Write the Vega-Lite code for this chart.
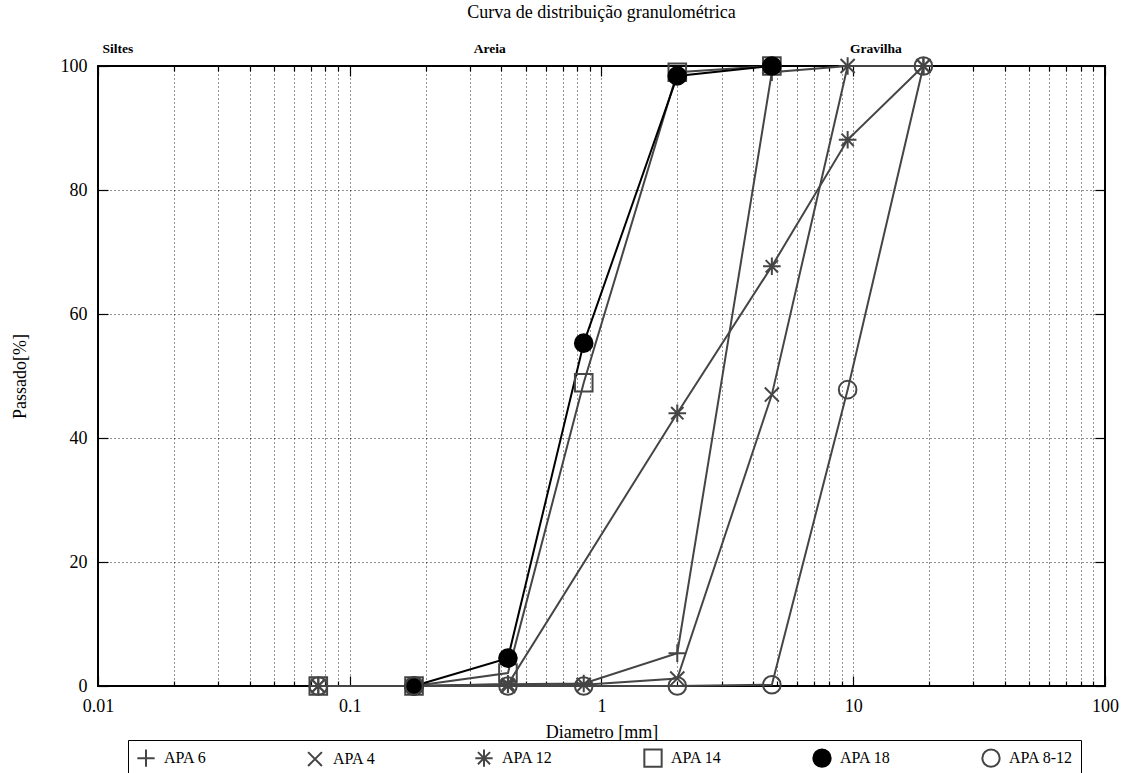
{
  "$schema": "https://vega.github.io/schema/vega-lite/v6.json",
  "autosize": "none",
  "width": 1007,
  "height": 620,
  "padding": {"left": 98, "top": 66, "right": 24, "bottom": 87},
  "title": {"text": "Curva de distribuição granulométrica", "font": "Liberation Serif", "fontSize": 18, "fontWeight": "normal", "color": "#000", "offset": 20, "anchor": "middle"},
  "config": {
    "view": {"stroke": "#000", "strokeWidth": 2},
    "font": "Liberation Serif",
    "axis": {"domain": false, "labelFont": "Liberation Serif", "titleFont": "Liberation Serif", "labelFontSize": 18, "titleFontSize": 18, "titleFontWeight": "normal", "labelColor": "#000", "titleColor": "#000", "tickColor": "#000", "tickWidth": 1.2, "gridColor": "#000", "gridDash": [1, 3], "gridOpacity": 0.85, "gridWidth": 1}
  },
  "datasets": {
    "curves": [
      {"s": "APA 6", "d": 0.075, "p": 0}, {"s": "APA 6", "d": 0.18, "p": 0}, {"s": "APA 6", "d": 0.425, "p": 0.3}, {"s": "APA 6", "d": 0.85, "p": 0.4}, {"s": "APA 6", "d": 2, "p": 5.3}, {"s": "APA 6", "d": 4.75, "p": 99}, {"s": "APA 6", "d": 9.5, "p": 100}, {"s": "APA 6", "d": 19, "p": 100},
      {"s": "APA 4", "d": 0.075, "p": 0}, {"s": "APA 4", "d": 0.18, "p": 0}, {"s": "APA 4", "d": 0.425, "p": 0}, {"s": "APA 4", "d": 0.85, "p": 0.2}, {"s": "APA 4", "d": 2, "p": 1.2}, {"s": "APA 4", "d": 4.75, "p": 47}, {"s": "APA 4", "d": 9.5, "p": 100}, {"s": "APA 4", "d": 19, "p": 100},
      {"s": "APA 12", "d": 0.075, "p": 0}, {"s": "APA 12", "d": 0.18, "p": 0}, {"s": "APA 12", "d": 0.425, "p": 0.3}, {"s": "APA 12", "d": 2, "p": 44}, {"s": "APA 12", "d": 4.75, "p": 67.7}, {"s": "APA 12", "d": 9.5, "p": 88.1}, {"s": "APA 12", "d": 19, "p": 100},
      {"s": "APA 14", "d": 0.075, "p": 0}, {"s": "APA 14", "d": 0.18, "p": 0}, {"s": "APA 14", "d": 0.425, "p": 2.1}, {"s": "APA 14", "d": 0.85, "p": 48.9}, {"s": "APA 14", "d": 2, "p": 99}, {"s": "APA 14", "d": 4.75, "p": 100},
      {"s": "APA 18", "d": 0.18, "p": 0}, {"s": "APA 18", "d": 0.425, "p": 4.5}, {"s": "APA 18", "d": 0.85, "p": 55.3}, {"s": "APA 18", "d": 2, "p": 98.4}, {"s": "APA 18", "d": 4.75, "p": 100},
      {"s": "APA 8-12", "d": 0.075, "p": 0}, {"s": "APA 8-12", "d": 0.18, "p": 0}, {"s": "APA 8-12", "d": 0.425, "p": 0}, {"s": "APA 8-12", "d": 0.85, "p": 0}, {"s": "APA 8-12", "d": 2, "p": 0}, {"s": "APA 8-12", "d": 4.75, "p": 0.2}, {"s": "APA 8-12", "d": 9.5, "p": 47.8}, {"s": "APA 8-12", "d": 19, "p": 100}
    ],
    "zones": [
      {"label": "Siltes", "d": 0.012, "p": 100},
      {"label": "Areia", "d": 0.36, "p": 100},
      {"label": "Gravilha", "d": 12.3, "p": 100}
    ]
  },
  "layer": [
    {
      "data": {"name": "curves"},
      "mark": {"type": "line", "strokeWidth": 2},
      "encoding": {
        "x": {"field": "d", "type": "quantitative", "scale": {"type": "log", "domain": [0.01, 100], "nice": false},
          "axis": {"orient": "bottom", "title": "Diametro [mm]", "values": [0.01,0.02,0.03,0.04,0.05,0.06,0.07,0.08,0.09,0.1,0.2,0.3,0.4,0.5,0.6,0.7,0.8,0.9,1,2,3,4,5,6,7,8,9,10,20,30,40,50,60,70,80,90,100],
            "format": "~g", "labelExpr": "(datum.value==0.01||datum.value==0.1||datum.value==1||datum.value==10||datum.value==100) ? datum.label : ''",
            "grid": true, "tickSize": {"condition": {"test": "datum.value==0.01||datum.value==0.1||datum.value==1||datum.value==10||datum.value==100", "value": -10}, "value": -5},
            "labelPadding": 21, "titlePadding": 3, "labelFlush": false, "labelOverlap": false}},
        "y": {"field": "p", "type": "quantitative", "scale": {"domain": [0, 100], "nice": false},
          "axis": {"orient": "left", "title": "Passado[%]", "values": [0,20,40,60,80,100], "format": "d", "grid": true, "tickSize": -10, "labelPadding": 21, "titlePadding": 31}},
        "color": {"field": "s", "type": "nominal", "scale": {"domain": ["APA 6","APA 4","APA 12","APA 14","APA 18","APA 8-12"], "range": ["#454545","#454545","#454545","#454545","#000000","#454545"]},
          "legend": {"title": null, "orient": "none", "legendX": 30, "legendY": 674, "direction": "horizontal", "columns": 6, "gridAlign": "all", "columnPadding": 74, "strokeColor": "#000", "padding": 8, "labelFont": "Liberation Serif", "labelFontSize": 16, "labelColor": "#000", "symbolSize": 300, "symbolStrokeWidth": 2, "labelOffset": 8}},
        "detail": {"field": "s"}
      }
    },
    {
      "data": {"name": "curves"},
      "mark": {"type": "point", "filled": false, "strokeWidth": 2, "opacity": 1, "size": 310},
      "encoding": {
        "x": {"field": "d", "type": "quantitative", "scale": {"type": "log", "domain": [0.01, 100], "nice": false},
          "axis": {"orient": "top", "title": null, "labels": false, "grid": false, "values": [0.01,0.02,0.03,0.04,0.05,0.06,0.07,0.08,0.09,0.1,0.2,0.3,0.4,0.5,0.6,0.7,0.8,0.9,1,2,3,4,5,6,7,8,9,10,20,30,40,50,60,70,80,90,100],
            "tickSize": {"condition": {"test": "datum.value==0.01||datum.value==0.1||datum.value==1||datum.value==10||datum.value==100", "value": -10}, "value": -5}}},
        "y": {"field": "p", "type": "quantitative", "scale": {"domain": [0, 100], "nice": false},
          "axis": {"orient": "right", "title": null, "labels": false, "grid": false, "values": [0,20,40,60,80,100], "tickSize": -10}},
        "color": {"field": "s", "type": "nominal", "scale": {"domain": ["APA 6","APA 4","APA 12","APA 14","APA 18","APA 8-12"], "range": ["#454545","#454545","#454545","#454545","#000000","#454545"]},
          "legend": {"title": null, "orient": "none", "legendX": 30, "legendY": 674, "direction": "horizontal", "columns": 6, "gridAlign": "all", "columnPadding": 74, "strokeColor": "#000", "padding": 8, "labelFont": "Liberation Serif", "labelFontSize": 16, "labelColor": "#000", "symbolSize": 300, "symbolStrokeWidth": 2, "labelOffset": 8}},
        "shape": {"field": "s", "type": "nominal", "scale": {"domain": ["APA 6","APA 4","APA 12","APA 14","APA 18","APA 8-12"], "range": ["M-1,0L1,0M0,-1L0,1", "M-0.8,-0.8L0.8,0.8M-0.8,0.8L0.8,-0.8", "M-1,0L1,0M0,-1L0,1M-0.7,-0.7L0.7,0.7M-0.7,0.7L0.7,-0.7", "square", "circle", "circle"]},
          "legend": {"title": null}},
        "fill": {"field": "s", "type": "nominal", "scale": {"domain": ["APA 6","APA 4","APA 12","APA 14","APA 18","APA 8-12"], "range": ["transparent","transparent","transparent","transparent","#000000","transparent"]},
          "legend": {"title": null}}
      }
    },
    {
      "data": {"name": "zones"},
      "mark": {"type": "text", "font": "Liberation Serif", "fontSize": 13.5, "fontWeight": "bold", "baseline": "bottom", "dy": -10, "color": "#000"},
      "encoding": {
        "x": {"field": "d", "type": "quantitative", "scale": {"type": "log", "domain": [0.01, 100], "nice": false}, "axis": null},
        "y": {"field": "p", "type": "quantitative", "scale": {"domain": [0, 100], "nice": false}, "axis": null},
        "text": {"field": "label"}
      }
    }
  ],
  "resolve": {"axis": {"x": "independent", "y": "independent"}}
}
